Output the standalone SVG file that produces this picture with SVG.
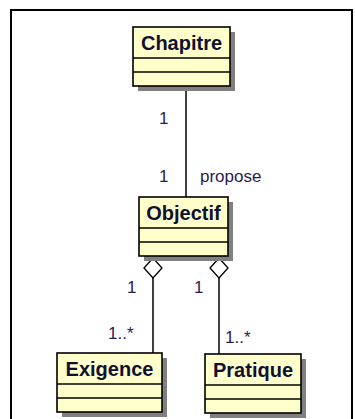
<svg xmlns="http://www.w3.org/2000/svg" width="355" height="419" viewBox="0 0 355 419">
<style>
.shadow{fill:#808080;}
.box{fill:#FFFFCC;stroke:#000;stroke-width:1.6;}
.div{stroke:#000;stroke-width:1.4;}
.name{font-family:"Liberation Sans",Arial,sans-serif;font-weight:bold;font-size:20px;fill:#101030;text-anchor:middle;}
.lbl{font-family:"Liberation Sans",Arial,sans-serif;font-size:17px;fill:#2a2050;}
.conn{stroke:#000;stroke-width:1.5;fill:none;}
.dia{fill:#fff;stroke:#000;stroke-width:1.3;}
</style>
<rect x="0" y="0" width="355" height="419" fill="#fff"/>
<rect x="11" y="10" width="341" height="420" fill="none" stroke="#000" stroke-width="2"/>
<g id="connectors">
<line class="conn" x1="186" y1="86" x2="186" y2="197"/>
<line class="conn" x1="153" y1="278" x2="153" y2="353"/>
<line class="conn" x1="219" y1="278" x2="219" y2="354"/>
<polygon class="dia" points="153,258 162,268 153,278 144,268"/>
<polygon class="dia" points="219,258 228,268 219,278 210,268"/>
<text class="lbl" x="159" y="124">1</text>
<text class="lbl" x="159" y="182">1</text>
<text class="lbl" x="200" y="182">propose</text>
<text class="lbl" x="127" y="293">1</text>
<text class="lbl" x="194" y="293">1</text>
<text class="lbl" x="108" y="339">1..*</text>
<text class="lbl" x="225" y="343">1..*</text>
</g>
<g id="Chapitre">
<rect class="shadow" x="138" y="32" width="97" height="59"/>
<rect class="box" x="133" y="27" width="97" height="59"/>
<line class="div" x1="133" y1="58" x2="230" y2="58"/>
<line class="div" x1="133" y1="72" x2="230" y2="72"/>
<text class="name" x="181.5" y="50">Chapitre</text>
</g>
<g id="Objectif">
<rect class="shadow" x="144" y="202" width="89" height="59"/>
<rect class="box" x="139" y="197" width="89" height="59"/>
<line class="div" x1="139" y1="228" x2="228" y2="228"/>
<line class="div" x1="139" y1="242" x2="228" y2="242"/>
<text class="name" x="183.5" y="220">Objectif</text>
</g>
<g id="Exigence">
<rect class="shadow" x="62" y="358" width="105" height="59"/>
<rect class="box" x="57" y="353" width="105" height="59"/>
<line class="div" x1="57" y1="384" x2="162" y2="384"/>
<line class="div" x1="57" y1="398" x2="162" y2="398"/>
<text class="name" x="109.5" y="376">Exigence</text>
</g>
<g id="Pratique">
<rect class="shadow" x="210" y="359" width="96" height="59"/>
<rect class="box" x="205" y="354" width="96" height="59"/>
<line class="div" x1="205" y1="385" x2="301" y2="385"/>
<line class="div" x1="205" y1="399" x2="301" y2="399"/>
<text class="name" x="253" y="377">Pratique</text>
</g>
</svg>
